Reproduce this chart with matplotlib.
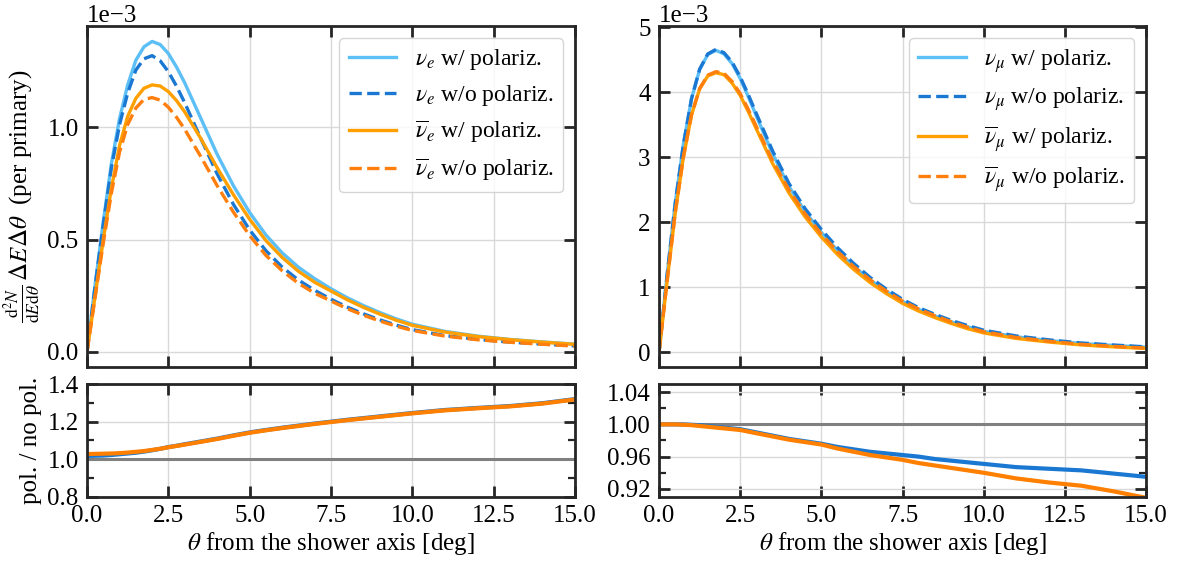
import numpy as np
import matplotlib
matplotlib.use("Agg")
import matplotlib.pyplot as plt

plt.rcParams['font.family'] = ['Liberation Serif', 'DejaVu Serif']
plt.rcParams['mathtext.fontset'] = 'stix'
plt.rcParams['axes.unicode_minus'] = True

# ---------------- data (values in units of 1e-3) ----------------
theta = [0, 0.25, 0.5, 0.75, 1.0, 1.25, 1.5, 1.75, 2.0, 2.25, 2.5, 2.75, 3.0,
         3.5, 4.0, 4.5, 5.0, 5.5, 6.0, 6.5, 7.0, 7.5, 8.0, 8.5, 9.0, 9.5,
         10.0, 11.0, 12.0, 13.0, 14.0, 15.0]

# electron neutrinos, with polarization
nue_pol = [0, 0.30, 0.58, 0.84, 1.04, 1.19, 1.30, 1.36, 1.384, 1.37, 1.33, 1.27, 1.20,
           1.04, 0.88, 0.74, 0.62, 0.52, 0.44, 0.376, 0.325, 0.28, 0.24, 0.205, 0.174, 0.146,
           0.122, 0.090, 0.069, 0.054, 0.043, 0.033]
nuebar_pol = [0, 0.25, 0.50, 0.73, 0.92, 1.05, 1.13, 1.175, 1.19, 1.185, 1.16, 1.12, 1.07,
              0.95, 0.82, 0.70, 0.59, 0.495, 0.42, 0.358, 0.309, 0.27, 0.231, 0.197, 0.167, 0.140,
              0.117, 0.087, 0.067, 0.053, 0.042, 0.032]
# ratio pol / no pol (electron)
nue_ratio = [1.018, 1.019, 1.020, 1.023, 1.027, 1.031, 1.035, 1.041, 1.048, 1.056, 1.065, 1.072, 1.080,
             1.095, 1.110, 1.127, 1.143, 1.156, 1.168, 1.179, 1.190, 1.200, 1.210, 1.219, 1.228, 1.237,
             1.246, 1.262, 1.273, 1.283, 1.298, 1.320]
nuebar_ratio = [1.028, 1.029, 1.030, 1.031, 1.033, 1.036, 1.040, 1.044, 1.050, 1.056, 1.064, 1.071, 1.078,
                1.093, 1.108, 1.125, 1.141, 1.154, 1.166, 1.177, 1.188, 1.198, 1.208, 1.217, 1.226, 1.235,
                1.244, 1.260, 1.271, 1.281, 1.296, 1.318]

# muon neutrinos, with polarization
numu_pol = [0, 1.20, 2.30, 3.20, 3.90, 4.35, 4.58, 4.645, 4.59, 4.44, 4.21, 3.93, 3.63,
            3.05, 2.55, 2.16, 1.84, 1.56, 1.32, 1.11, 0.935, 0.78, 0.655, 0.555, 0.465, 0.39,
            0.32, 0.235, 0.178, 0.132, 0.102, 0.075]
numubar_pol = [0, 1.10, 2.15, 3.00, 3.65, 4.05, 4.25, 4.30, 4.27, 4.14, 3.95, 3.70, 3.43,
               2.90, 2.45, 2.08, 1.77, 1.50, 1.27, 1.07, 0.90, 0.75, 0.63, 0.53, 0.44, 0.36,
               0.295, 0.21, 0.155, 0.11, 0.08, 0.055]
numu_ratio = [1.000, 1.000, 1.000, 1.000, 0.9995, 0.999, 0.998, 0.997, 0.996, 0.995, 0.994, 0.992, 0.990,
              0.986, 0.982, 0.979, 0.976, 0.972, 0.969, 0.966, 0.964, 0.962, 0.960, 0.957, 0.955, 0.953,
              0.951, 0.947, 0.945, 0.943, 0.939, 0.935]
numubar_ratio = [1.000, 1.000, 1.000, 0.9995, 0.999, 0.998, 0.997, 0.996, 0.995, 0.994, 0.993, 0.991, 0.989,
                 0.985, 0.981, 0.978, 0.975, 0.970, 0.966, 0.962, 0.959, 0.956, 0.952, 0.949, 0.946, 0.943,
                 0.940, 0.933, 0.928, 0.924, 0.917, 0.909]

xticks = [0.0, 2.5, 5.0, 7.5, 10.0, 12.5, 15.0]

C_LB = '#5cbff5'
C_DB = '#1a78d2'
C_OS = '#ffa000'
C_OD = '#ff7f0e'
C_OR = '#ff7f00'
C_GRID = '#d9d9d9'
C_SP = '#262626'

FS = 18
LFS = 17

fig = plt.figure(figsize=(11.89, 5.61), dpi=100)

def style(ax):
    for s in ax.spines.values():
        s.set_linewidth(2.0)
        s.set_color(C_SP)
    ax.tick_params(which='major', direction='in', top=True, right=True, length=8, width=2.0,
                   color=C_SP, labelsize=FS, pad=6)
    ax.tick_params(which='minor', direction='in', top=True, right=True, length=5, width=1.6,
                   color=C_SP)
    ax.grid(True, which='major', color=C_GRID, lw=1.0)
    ax.set_axisbelow(True)
    ax.set_xlim(0, 15)
    ax.set_xticks(xticks)
    ax.yaxis.get_offset_text().set_fontsize(FS)

th = np.array(theta)

def top_panel(rect, pol, polbar, ratio, ratiobar, flav):
    ax = fig.add_axes(rect)
    pol = np.array(pol) * 1e-3
    polbar = np.array(polbar) * 1e-3
    nopol = pol / np.array(ratio)
    nopolbar = polbar / np.array(ratiobar)
    ax.plot(th, pol, color=C_LB, lw=2.4, label=r'$\nu_{%s}$ w/ polariz.' % flav)
    ax.plot(th, nopol, color=C_DB, lw=2.4, ls='--', label=r'$\nu_{%s}$ w/o polariz.' % flav)
    ax.plot(th, polbar, color=C_OS, lw=2.4, label=r'$\overline{\nu}_{%s}$ w/ polariz.' % flav)
    ax.plot(th, nopolbar, color=C_OD, lw=2.4, ls='--', label=r'$\overline{\nu}_{%s}$ w/o polariz.' % flav)
    style(ax)
    ax.set_xticklabels([])
    ax.ticklabel_format(axis='y', style='sci', scilimits=(-3, -3))
    leg = ax.legend(loc='upper right', fontsize=LFS, framealpha=0.8, edgecolor='#cccccc',
                    handlelength=2.0, labelspacing=0.45, borderpad=0.4)
    leg.get_frame().set_linewidth(1.0)
    return ax

def bottom_panel(rect, ratio, ratiobar):
    ax = fig.add_axes(rect)
    ax.axhline(1.0, color='#808080', lw=2.2, zorder=1.5)
    ax.plot(th, ratio, color=C_DB, lw=3.0)
    ax.plot(th, ratiobar, color=C_OR, lw=3.0)
    style(ax)
    ax.set_xticklabels(['0.0', '2.5', '5.0', '7.5', '10.0', '12.5', '15.0'])
    ax.set_xlabel(r'$\theta$ from the shower axis [deg]', fontsize=FS, labelpad=2)
    return ax

L1, W1 = 0.0732, 0.4104
L2, W2 = 0.5543, 0.4096
B_TOP, H_TOP = 0.3458, 0.6079
B_BOT, H_BOT = 0.1141, 0.2014

ax1 = top_panel([L1, B_TOP, W1, H_TOP], nue_pol, nuebar_pol, nue_ratio, nuebar_ratio, 'e')
ax1.set_yticks([0, 0.5e-3, 1.0e-3])
ax1.set_ylim(-0.069e-3, 1.453e-3)
ax1.set_ylabel(r'$\frac{\mathrm{d}^2N}{\mathrm{d}E\mathrm{d}\theta}\,\Delta E\Delta\theta$  (per primary)',
               fontsize=FS, labelpad=4)

ax2 = top_panel([L2, B_TOP, W2, H_TOP], numu_pol, numubar_pol, numu_ratio, numubar_ratio, r'\mu')
ax2.set_yticks([0, 1e-3, 2e-3, 3e-3, 4e-3, 5e-3])
ax2.set_ylim(-0.23e-3, 5.02e-3)

ax3 = bottom_panel([L1, B_BOT, W1, H_BOT], nue_ratio, nuebar_ratio)
ax3.set_ylim(0.8, 1.4)
ax3.set_yticks([0.8, 1.0, 1.2, 1.4])
ax3.set_yticks([0.9, 1.1, 1.3], minor=True)
ax3.set_ylabel('pol. / no pol.', fontsize=FS, labelpad=4)

ax4 = bottom_panel([L2, B_BOT, W2, H_BOT], numu_ratio, numubar_ratio)
ax4.set_ylim(0.91, 1.05)
ax4.set_yticks([0.92, 0.96, 1.00, 1.04])
ax4.set_yticks([0.94, 0.98, 1.02], minor=True)

fig.savefig('out.png', dpi=100)
